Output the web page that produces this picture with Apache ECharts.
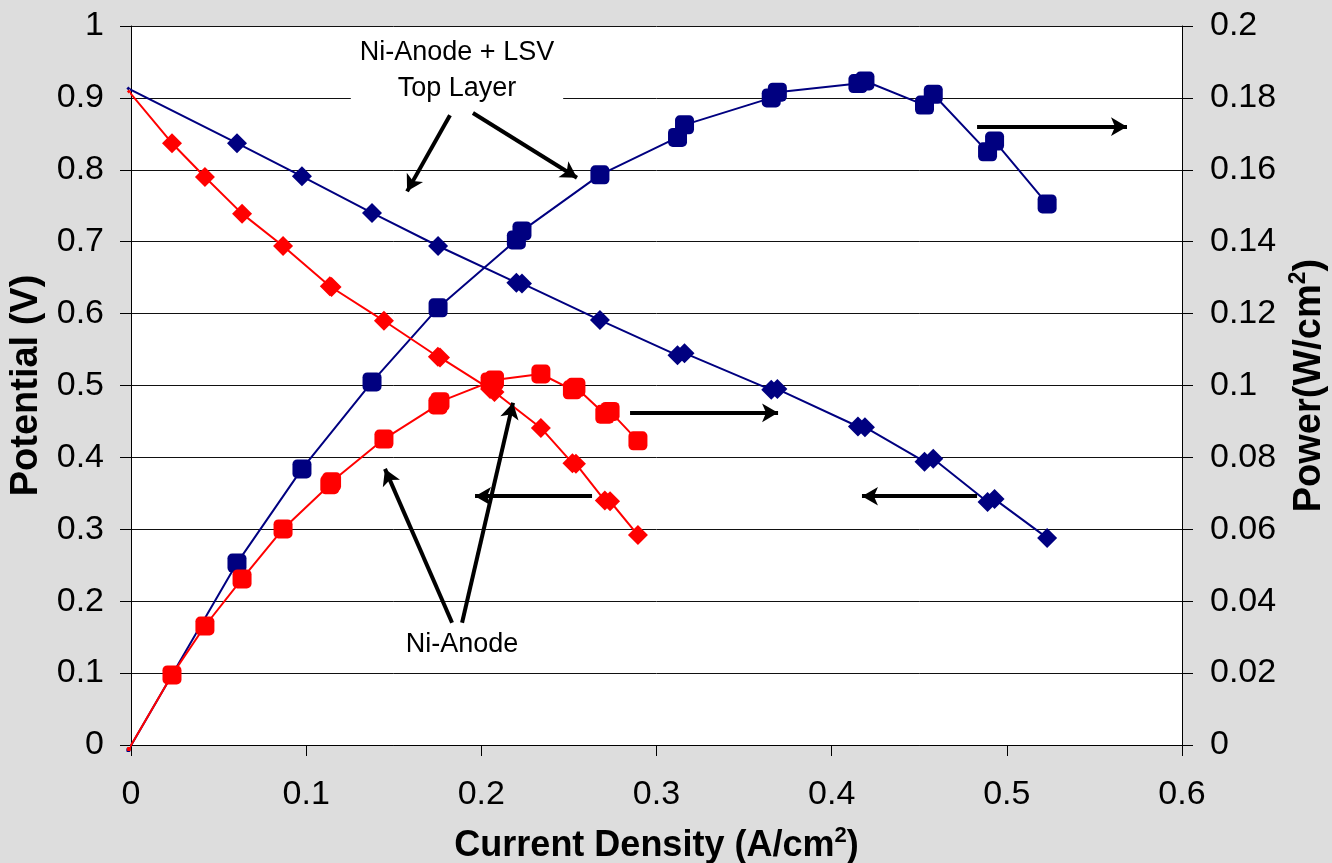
<!DOCTYPE html>
<html>
<head>
<meta charset="utf-8">
<script src="https://cdn.jsdelivr.net/npm/echarts@6/dist/echarts.min.js"></script>
<style>
html,body{margin:0;padding:0;background:#dddddd;}
#chart{width:1332px;height:863px;}
</style>
</head>
<body>
<div id="chart"></div>
<script>
// ---- Data ----
// Ni-Anode + LSV Top Layer (navy)
const lsvCurrent = [-0.0015, 0.0605, 0.0976, 0.1376, 0.1753, 0.2200, 0.2232, 0.2677, 0.3120, 0.3160, 0.3655, 0.3690, 0.4150, 0.4190, 0.4530, 0.4580, 0.4890, 0.4930, 0.5230];
const lsvPotential = [0.913, 0.837, 0.791, 0.740, 0.694, 0.643, 0.642, 0.591, 0.542, 0.545, 0.494, 0.495, 0.443, 0.442, 0.394, 0.398, 0.338, 0.342, 0.288];
const lsvPower = [-0.0014, 0.0506, 0.0768, 0.1010, 0.1216, 0.1405, 0.1430, 0.1586, 0.1690, 0.1725, 0.1800, 0.1816, 0.1840, 0.1847, 0.1780, 0.1810, 0.1650, 0.1680, 0.1505];
// Ni-Anode (red)
const niCurrent = [-0.0012, 0.0234, 0.0422, 0.0634, 0.0868, 0.1135, 0.1145, 0.1444, 0.1752, 0.1764, 0.2050, 0.2075, 0.2340, 0.2520, 0.2540, 0.2705, 0.2735, 0.2894];
const niPotential = [0.909, 0.837, 0.790, 0.739, 0.694, 0.638, 0.637, 0.590, 0.540, 0.539, 0.495, 0.491, 0.441, 0.392, 0.391, 0.340, 0.339, 0.292];
const niPower = [-0.0011, 0.0195, 0.0331, 0.0462, 0.0601, 0.0724, 0.0732, 0.0851, 0.0946, 0.0955, 0.1010, 0.1015, 0.1032, 0.0988, 0.0995, 0.0920, 0.0928, 0.0846];

// Axis ticks
const xTicks = {min: 0, max: 0.6, interval: 0.1};
const yLeftTicks = {min: 0, max: 1, interval: 0.1};
const yRightTicks = {min: 0, max: 0.2, interval: 0.02};

// Annotations (data coordinates on x / left y axis)
const annotationArrows = [
  [[0.1821, 0.876], [0.1576, 0.770]],
  [[0.1952, 0.879], [0.2546, 0.789]],
  [[0.1833, 0.170], [0.1450, 0.384]],
  [[0.1890, 0.170], [0.2181, 0.476]],
  [[0.2849, 0.462], [0.3694, 0.462]],
  [[0.2632, 0.346], [0.1964, 0.346]],
  [[0.4830, 0.346], [0.4173, 0.346]],
  [[0.4830, 0.860], [0.5686, 0.860]]
];
const annotationTexts = [
  {text: 'Ni-Anode + LSV\nTop Layer', at: [0.1861, 0.938], box: true},
  {text: 'Ni-Anode', at: [0.1890, 0.140], box: false}
];

const NAVY = '#000080', RED = '#ff0000';
const FONT = 'Liberation Sans, Arial, sans-serif';

function pairs(xs, ys) { return xs.map((x, i) => [x, ys[i]]); }
function symSize(big) { return (v, p) => p.dataIndex === 0 ? 4 : big; }

const chart = echarts.init(document.getElementById('chart'));

function nameStyle(size) {
  return {color: '#000', fontSize: size, fontWeight: 'bold', fontFamily: FONT,
    rich: {
      b: {fontSize: size, fontWeight: 'bold', fontFamily: FONT, color: '#000', lineHeight: size + 6},
      sup: {fontSize: Math.round(size * 0.6), fontWeight: 'bold', fontFamily: FONT, color: '#000', verticalAlign: 'top', lineHeight: size + 6}
    }
  };
}

const axisCommon = {
  axisLine: {show: true, lineStyle: {color: '#000', width: 1}},
  axisTick: {show: true, inside: false, length: 11, lineStyle: {color: '#000', width: 1}},
  axisLabel: {color: '#000', fontSize: 34, fontFamily: FONT}
};

function lineSeries(name, xs, ys, yIdx, color, symbol, size, extra) {
  return Object.assign({
    name, type: 'line', yAxisIndex: yIdx,
    data: pairs(xs, ys),
    symbol, symbolSize: symSize(size),
    showAllSymbol: true,
    clip: false,
    animation: false,
    lineStyle: {color, width: 2},
    itemStyle: {color, borderWidth: 0},
    emphasis: {disabled: true},
    z: symbol === 'roundRect' ? 3 : 4
  }, extra || {});
}

const arrowLines = annotationArrows.map(a => [
  {coord: a[0], symbol: 'none'},
  {coord: a[1], symbol: 'arrow'}
]);

chart.setOption({
  backgroundColor: '#dddddd',
  animation: false,
  grid: {left: 131, top: 26, right: 150, bottom: 118, show: true, backgroundColor: '#ffffff', borderWidth: 0,
         containLabel: false, outerBoundsMode: 'none'},
  xAxis: Object.assign({}, axisCommon, {
    type: 'value', min: xTicks.min, max: xTicks.max, interval: xTicks.interval,
    splitLine: {show: false},
    axisLabel: Object.assign({}, axisCommon.axisLabel, {margin: 33}),
    name: '{b|Current Density (A/cm}{sup|2}{b|)}',
    nameTextStyle: nameStyle(36),
    nameLocation: 'middle', nameGap: 80
  }),
  yAxis: [
    Object.assign({}, axisCommon, {
      type: 'value', position: 'left', min: yLeftTicks.min, max: yLeftTicks.max, interval: yLeftTicks.interval,
      splitLine: {show: true, lineStyle: {color: '#111', width: 1}},
      axisLabel: Object.assign({}, axisCommon.axisLabel, {margin: 27}),
      name: '{b|Potential (V)}',
      nameTextStyle: nameStyle(38),
      nameLocation: 'middle', nameRotate: 90, nameGap: 80
    }),
    Object.assign({}, axisCommon, {
      type: 'value', position: 'right', min: yRightTicks.min, max: yRightTicks.max, interval: yRightTicks.interval,
      splitLine: {show: false},
      axisLabel: Object.assign({}, axisCommon.axisLabel, {margin: 28}),
      name: '{b|Power(W/cm}{sup|2}{b|)}',
      nameTextStyle: nameStyle(38),
      nameLocation: 'middle', nameRotate: 90, nameGap: 104
    })
  ],
  series: [
    lineSeries('Ni-Anode + LSV Power', lsvCurrent, lsvPower, 1, NAVY, 'roundRect', 19),
    lineSeries('Ni-Anode Power', niCurrent, niPower, 1, RED, 'roundRect', 19),
    lineSeries('Ni-Anode + LSV Potential', lsvCurrent, lsvPotential, 0, NAVY, 'diamond', 20),
    lineSeries('Ni-Anode Potential', niCurrent, niPotential, 0, RED, 'diamond', 20, {
      markLine: {
        silent: true, animation: false,
        symbolSize: [14, 16],
        label: {show: false},
        lineStyle: {color: '#000', width: 4, type: 'solid'},
        itemStyle: {color: '#000'},
        emphasis: {disabled: true},
        data: arrowLines
      }
    })
  ]
});

const graphics = annotationTexts.map(t => {
  const p = chart.convertToPixel({xAxisIndex: 0, yAxisIndex: 0}, t.at);
  return {
    type: 'text', x: p[0], y: p[1], z: 50,
    style: {
      text: t.text, fontSize: 27, fontFamily: FONT, fill: '#000',
      align: 'center', verticalAlign: 'middle', lineHeight: 36,
      backgroundColor: t.box ? '#ffffff' : null,
      padding: t.box ? [4, 9, 4, 9] : 0
    }
  };
});
chart.setOption({graphic: graphics});
</script>
</body>
</html>
